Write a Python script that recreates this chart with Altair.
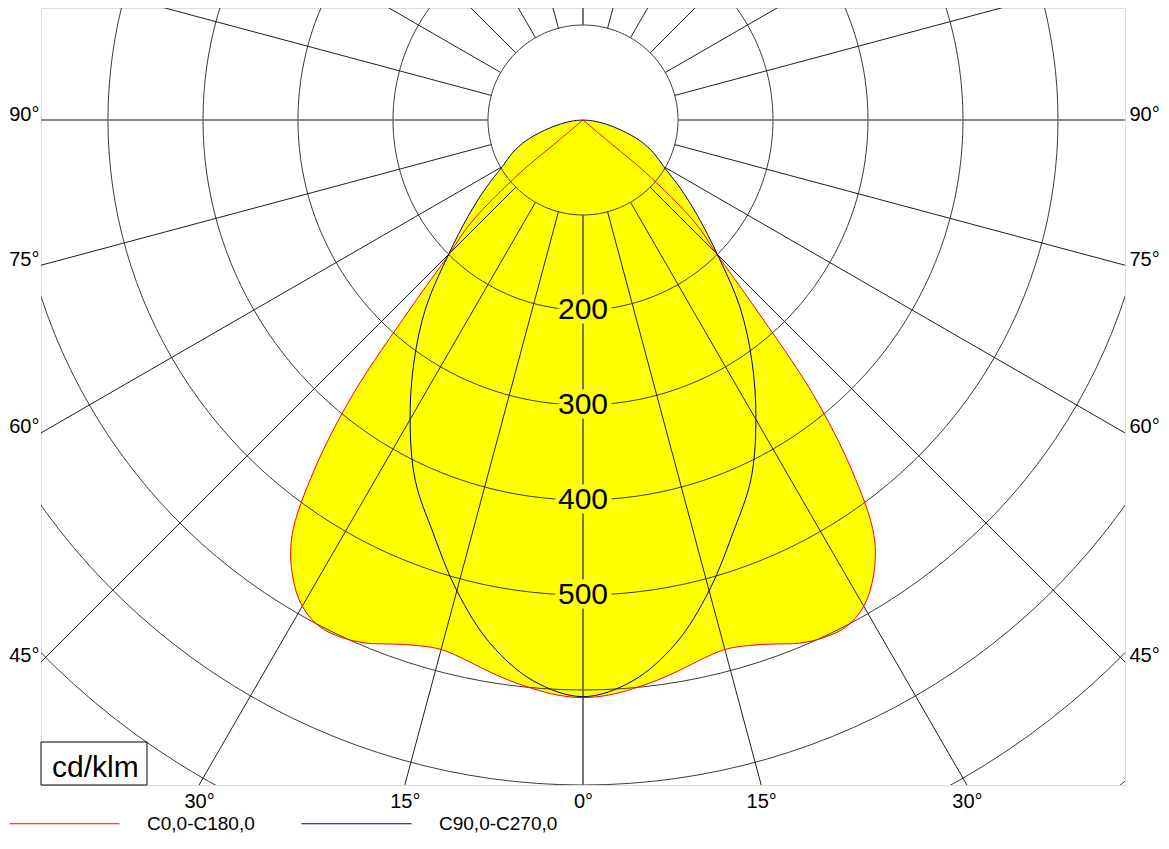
import math
import altair as alt
import numpy as np
import pandas as pd

# ---------------- data ----------------
# C0,0-C180,0 plane (red), gamma angle in degrees -> intensity in cd/klm
c0_gamma = [0, 2.5, 5, 7.5, 10, 12.5, 15, 17.5, 20, 22.5, 25, 27.5, 30, 32.5,
            35, 37.5, 40, 42.5, 45, 47.5, 50, 50, 55]
c0_value = [608, 606, 601, 595, 588, 581, 577, 580, 587, 596, 601, 601, 591, 569,
            534, 465, 376, 268, 198, 160, 86, 40, 0]
# C90,0-C270,0 plane (blue)
c90_gamma = [0, 5, 10, 15, 20, 25, 30, 35, 40, 45, 50, 55, 60, 65, 70, 75, 80, 85, 90]
c90_value = [607, 593, 560, 513, 462, 418, 364, 310, 257, 200, 158, 125, 98, 82,
             64, 42, 24, 10, 0]

series_names = ["C0,0-C180,0", "C90,0-C270,0"]
series_colors = ["#FF0000", "#000080"]
fill_color = "#FFFF00"
ring_color = "#3a3a3a"
spoke_color = "#202020"
main_spoke_color = "#606060"

ring_values = [100, 200, 300, 400, 500, 600, 700, 800, 900]
ring_label_values = [200, 300, 400, 500]
spoke_angles = list(range(0, 360, 15))
side_tick_angles = [90, 75, 60, 45]
bottom_tick_angles = [-30, -15, 0, 15, 30]
unit_label = "cd/klm"

# ---------------- layout ----------------
X_HALF = 570.5
Y_TOP = 117.9
Y_BOT = -700.0
W, H = 1084, 777
FONT = "Liberation Sans"
AX_FS = 20

xs = alt.Scale(domain=[-X_HALF, X_HALF], nice=False, zero=False)
ys = alt.Scale(domain=[Y_BOT, Y_TOP], nice=False, zero=False)

side_vals = [-X_HALF * math.cos(math.radians(g)) / math.sin(math.radians(g)) for g in side_tick_angles]
bottom_vals = [-Y_BOT * math.tan(math.radians(g)) for g in bottom_tick_angles]
side_expr = "round(atan2(" + str(X_HALF) + ", -datum.value) * 180 / PI) + '°'"
bottom_expr = "abs(round(atan(datum.value / " + str(-Y_BOT) + ") * 180 / PI)) + '°'"
spoke_w_expr = "datum.a % 90 == 0 ? 1.7 : 1"
spoke_c_expr = "datum.a % 90 == 0 ? '" + main_spoke_color + "' : '" + spoke_color + "'"


def curve_frame(name, gammas, values):
    rows = []
    k = 0
    for g, v in zip(reversed(gammas), reversed(values)):
        rows.append({"series": name, "k": k, "gamma": -g, "I": v})
        k += 1
    for g, v in zip(gammas[1:], values[1:]):
        rows.append({"series": name, "k": k, "gamma": g, "I": v})
        k += 1
    return pd.DataFrame(rows)


curves = pd.concat([
    curve_frame(series_names[0], c0_gamma, c0_value),
    curve_frame(series_names[1], c90_gamma, c90_value),
], ignore_index=True)

base_curve = alt.Chart(curves).transform_calculate(
    px="datum.I * sin(datum.gamma * PI / 180)",
    py="-datum.I * cos(datum.gamma * PI / 180)",
)

fill_layer = base_curve.mark_line(fill=fill_color, strokeOpacity=0, clip=True,
                                  interpolate="catmull-rom").encode(
    x=alt.X("px:Q", scale=xs, axis=None),
    y=alt.Y("py:Q", scale=ys, axis=None),
    detail="series:N",
    order="k:Q",
)

# grid circles
ring_rows = pd.DataFrame([{"ring": r, "a": a} for r in ring_values for a in range(0, 361, 2)])
rings = alt.Chart(ring_rows).transform_calculate(
    px="datum.ring * sin(datum.a * PI / 180)",
    py="-datum.ring * cos(datum.a * PI / 180)",
).mark_line(color=ring_color, strokeWidth=1, clip=True).encode(
    x=alt.X("px:Q", scale=xs, axis=None),
    y=alt.Y("py:Q", scale=ys, axis=alt.Axis(
        orient="right", values=side_vals, labelExpr=side_expr,
        labelAlign="left", labelBaseline="alphabetic", labelPadding=4, title=None,
        labelFont=FONT, labelFontSize=AX_FS, labelColor="black",
        domain=False, ticks=False, grid=False, labelOverlap=False)),
    detail="ring:N",
    order="a:Q",
)

# radial lines
spokes = alt.Chart(pd.DataFrame({"a": spoke_angles})).transform_calculate(
    x1="100 * sin(datum.a * PI / 180)",
    y1="-100 * cos(datum.a * PI / 180)",
    x2="1000 * sin(datum.a * PI / 180)",
    y2="-1000 * cos(datum.a * PI / 180)",
    w=spoke_w_expr,
    c=spoke_c_expr,
).mark_rule(clip=True).encode(
    x=alt.X("x1:Q", scale=xs, axis=alt.Axis(
        orient="bottom", values=bottom_vals, labelExpr=bottom_expr,
        labelPadding=6, title=None, labelBaseline="top",
        labelFont=FONT, labelFontSize=AX_FS, labelColor="black",
        domain=False, ticks=False, grid=False, labelOverlap=False, labelFlush=False)),
    y=alt.Y("y1:Q", scale=ys, axis=alt.Axis(
        orient="left", values=side_vals, labelExpr=side_expr,
        labelAlign="right", labelBaseline="alphabetic", labelPadding=2, title=None,
        labelFont=FONT, labelFontSize=AX_FS, labelColor="black",
        domain=False, ticks=False, grid=False, labelOverlap=False)),
    x2="x2:Q",
    y2="y2:Q",
    strokeWidth=alt.StrokeWidth("w:Q", scale=None),
    color=alt.Color("c:N", scale=None),
)

# ring value labels
ring_lab = alt.Chart(pd.DataFrame({"v": ring_label_values})).transform_calculate(
    px="0", py="-datum.v"
)
ring_halo = ring_lab.mark_text(font=FONT, fontSize=30, fill=fill_color, stroke=fill_color,
                               strokeWidth=9, strokeJoin="round").encode(
    x=alt.X("px:Q", scale=xs, axis=None), y=alt.Y("py:Q", scale=ys, axis=None), text="v:Q")
ring_text = ring_lab.mark_text(font=FONT, fontSize=30, fill="black").encode(
    x=alt.X("px:Q", scale=xs, axis=None), y=alt.Y("py:Q", scale=ys, axis=None), text="v:Q")

# curve outlines
lines = base_curve.mark_line(strokeWidth=1, clip=True, interpolate="catmull-rom").encode(
    x=alt.X("px:Q", scale=xs, axis=None),
    y=alt.Y("py:Q", scale=ys, axis=None),
    color=alt.Color("series:N", scale=alt.Scale(domain=series_names, range=series_colors),
                    legend=alt.Legend(title=None, orient="none", legendX=-32, legendY=760,
                                      direction="horizontal", symbolType="stroke",
                                      symbolSize=12100, symbolStrokeWidth=1,
                                      labelFont=FONT, labelFontSize=19, labelColor="black",
                                      labelOffset=27, columnPadding=44)),
    order="k:Q",
)

unit_df = pd.DataFrame({"t": [unit_label]})
unit_box = alt.Chart(unit_df).mark_rect(fill="white", stroke="black", strokeWidth=1).encode(
    x=alt.value(0), x2=alt.value(106), y=alt.value(734), y2=alt.value(777))
unit_text = alt.Chart(unit_df).mark_text(font=FONT, fontSize=30, align="left",
                                          baseline="alphabetic", fill="black").encode(
    x=alt.value(11), y=alt.value(769), text="t:N")

chart = alt.layer(
    fill_layer, rings, spokes, ring_halo, ring_text, lines, unit_box, unit_text
).resolve_axis(x="independent", y="independent").properties(
    width=W, height=H,
    autosize=alt.AutoSizeParams(type="none"),
    padding={"left": 33, "top": 0, "right": 36, "bottom": 50},
).configure_view(stroke="black", strokeWidth=1).configure(background="white")

chart.save("out.html", embed_options={"renderer": "svg", "actions": False})
